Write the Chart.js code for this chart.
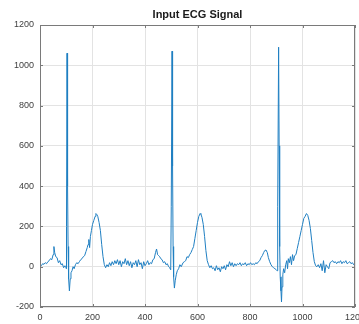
<!DOCTYPE html>
<html><head><meta charset="utf-8">
<script src="https://cdn.jsdelivr.net/npm/chart.js@4/dist/chart.umd.min.js"></script>
<style>html,body{margin:0;padding:0;background:#fff}#wrap{width:359px;height:324px}</style>
</head><body><div id="wrap"><canvas id="c" width="359" height="324"></canvas></div>
<script>
const titleText = "Input ECG Signal";
const xTickValues = [0, 200, 400, 600, 800, 1000, 1200];
const yTickValues = [-200, 0, 200, 400, 600, 800, 1000, 1200];
const sampleX = [
0,5,10,15,20,25,30,35,40,45,50,53,56,60,65,70,75,80,85,90,95,98,100,
101,103,105,107,109,112,115,118,122,126,
130,135,140,145,150,155,160,165,170,175,180,183,186,189,192,196,200,205,210,213,216,220,225,230,235,240,245,250,
255,260,265,270,275,280,285,290,295,300,305,310,315,320,325,330,335,340,345,350,355,360,365,370,375,380,385,390,395,400,405,410,415,420,425,430,435,440,444,448,452,456,460,465,470,475,480,485,490,494,498,
500,503,505,507,509,512,515,519,523,528,
533,538,545,550,555,560,565,570,575,580,585,590,595,600,605,610,613,617,622,627,632,637,642,647,652,
657,662,667,672,677,682,687,692,697,702,707,712,717,722,727,732,737,742,747,752,757,762,767,772,777,782,787,792,797,802,807,812,817,822,827,832,837,842,847,852,856,861,866,870,875,880,885,890,895,900,903,905,
906,909,911,913,915,918,920,922,925,928,
932,936,940,943,946,950,954,958,962,966,970,975,980,985,990,995,1000,1005,1010,1015,1020,1025,1030,1035,1040,1045,1050,1055,1060,1065,1070,1075,1080,1085,1090,1095,1100,1105,1110,1115,1120,1125,1130,1135,1140,1145,1150,1155,1160,1165,1170,1175,1180,1185,1190,1195,1200
];
const ecgValues = [
10,5,15,12,20,15,25,30,40,35,60,100,70,50,45,20,30,10,15,-5,5,0,-10,
200,1060,400,100,-60,-120,-60,-30,-20,0,
-10,10,20,15,25,35,40,50,55,75,95,110,135,95,150,180,210,230,250,264,260,250,220,180,110,50,10,-5,
10,0,20,5,25,10,30,15,35,10,30,0,25,15,40,10,30,5,25,-5,20,10,30,0,35,10,20,-10,25,5,15,30,10,20,15,35,40,70,88,60,55,50,40,35,20,25,10,15,0,-5,-15,
300,1070,500,100,-50,-106,-70,-40,-20,-10,
10,0,20,25,30,50,45,60,70,85,100,140,180,220,250,264,260,245,210,150,80,30,10,-5,5,
-10,-5,-20,5,-15,-5,-25,0,-10,5,-15,10,0,25,5,20,0,15,5,15,10,20,5,15,10,20,5,15,10,20,10,15,10,20,15,25,30,45,55,70,80,83,70,45,25,10,0,-5,-10,-15,-20,0,
300,1090,600,100,-50,-120,-175,-100,-40,-10,
-30,10,30,-10,40,20,50,10,60,30,55,60,90,120,150,180,210,240,250,264,255,230,190,130,70,25,5,0,10,-5,15,-20,30,-30,10,0,-10,20,25,30,20,25,15,25,20,30,15,25,20,30,15,20,25,15,20,10,20
];

const boxPlugin = {
  id: 'box',
  afterDraw(chart) {
    const {ctx, chartArea: a, scales} = chart;
    ctx.save();
    ctx.strokeStyle = '#7a7a7a';
    ctx.lineWidth = 1;
    ctx.strokeRect(Math.round(a.left) + 0.5, Math.round(a.top) + 0.5, Math.round(a.right - a.left) - 1, Math.round(a.bottom - a.top) - 1);
    ctx.beginPath();
    const tl = 3;
    xTickValues.forEach(v => {
      const px = Math.round(scales.x.getPixelForValue(v)) + 0.5;
      ctx.moveTo(px, a.bottom); ctx.lineTo(px, a.bottom - tl);
      ctx.moveTo(px, a.top); ctx.lineTo(px, a.top + tl);
    });
    yTickValues.forEach(v => {
      const py = Math.round(scales.y.getPixelForValue(v)) + 0.5;
      ctx.moveTo(a.left, py); ctx.lineTo(a.left + tl, py);
      ctx.moveTo(a.right, py); ctx.lineTo(a.right - tl, py);
    });
    ctx.stroke();
    ctx.fillStyle = '#1a1a1a';
    ctx.font = 'bold 11px "Liberation Sans", Arial, sans-serif';
    ctx.textAlign = 'center';
    ctx.textBaseline = 'middle';
    ctx.fillText(titleText, (a.left + a.right) / 2, 15);
    ctx.restore();
  }
};

const tickFont = {size: 9, family: '"Liberation Sans", Arial, sans-serif'};
new Chart(document.getElementById('c'), {
  type: 'line',
  data: {
    datasets: [{
      data: sampleX.map((x, i) => ({x: x, y: ecgValues[i]})),
      borderColor: '#1f7fc2',
      borderWidth: 1,
      pointRadius: 0,
      tension: 0,
      fill: false
    }]
  },
  options: {
    responsive: false,
    animation: false,
    layout: {padding: {top: 25, right: 4, left: 0, bottom: 0}},
    plugins: {legend: {display: false}, tooltip: {enabled: false}, title: {display: false}},
    scales: {
      x: {
        type: 'linear', min: 0, max: 1200,
        afterBuildTicks: s => { s.ticks = xTickValues.map(v => ({value: v})); },
        afterFit: s => { s.height = 17; s.paddingLeft = 0; s.paddingRight = 0; },
        grid: {color: '#e3e3e3', tickLength: 0, drawTicks: false},
        border: {display: false},
        ticks: {color: '#404040', font: tickFont, padding: 5, maxRotation: 0, autoSkip: false, callback: v => String(v)}
      },
      y: {
        min: -200, max: 1200,
        afterBuildTicks: s => { s.ticks = yTickValues.map(v => ({value: v})); },
        afterFit: s => { s.width = 40; s.paddingTop = 0; s.paddingBottom = 0; },
        grid: {color: '#e3e3e3', tickLength: 0, drawTicks: false},
        border: {display: false},
        ticks: {color: '#404040', font: tickFont, padding: 6, callback: v => String(v)}
      }
    }
  },
  plugins: [boxPlugin]
});
</script></body></html>
